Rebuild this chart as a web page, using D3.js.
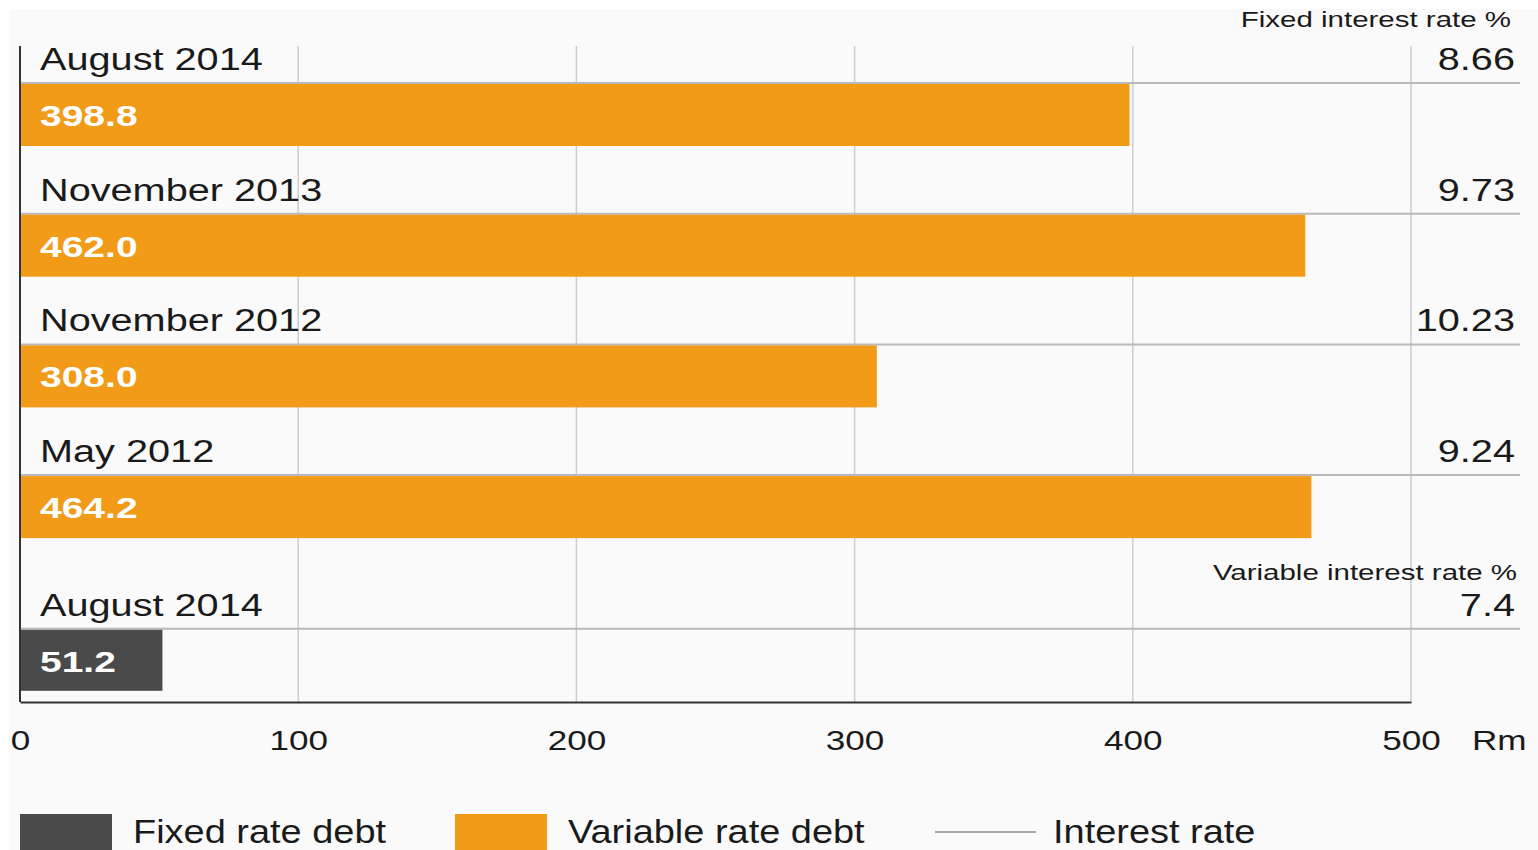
<!DOCTYPE html>
<html>
<head>
<meta charset="utf-8">
<script src="https://cdn.jsdelivr.net/npm/d3@7"></script>
<style>
  html, body { margin: 0; padding: 0; background: #ffffff; }
  svg { display: block; }
  text { font-family: "Liberation Sans", Arial, Helvetica, sans-serif; }
</style>
</head>
<body>
<svg id="chart" width="1538" height="850"></svg>
<script>
// Variable rate debt, by reporting date (Rm) and the fixed interest rate (%)
const variablePeriods = ["August 2014", "November 2013", "November 2012", "May 2012"];
const variableDebt = [398.8, 462.0, 308.0, 464.2];
const fixedRates = [8.66, 9.73, 10.23, 9.24];

// Fixed rate debt (Rm) and the variable interest rate (%)
const fixedPeriods = ["August 2014"];
const fixedDebt = [51.2];
const variableRates = [7.4];

const xTicks = [0, 100, 200, 300, 400, 500];
const legendItems = ["Fixed rate debt", "Variable rate debt", "Interest rate"];

const COLORS = { variable: "#f19b19", fixed: "#4a4a4a", grid: "#cdcdcd", rule: "#b9b9b9", axis: "#333333", text: "#1a1a1a" };

const svg = d3.select("#chart");
svg.append("rect").attr("x", 9).attr("y", 9).attr("width", 1529).attr("height", 841).attr("fill", "#fafafa");

const x = d3.scaleLinear().domain([0, 500]).range([20, 1411]);

// Rows: one list of entries, the second group sits a little lower to make room for its heading
const rows = [];
variablePeriods.forEach((p, i) => rows.push({ period: p, debt: variableDebt[i], rate: fixedRates[i], kind: "variable", group: 0 }));
fixedPeriods.forEach((p, i) => rows.push({ period: p, debt: fixedDebt[i], rate: variableRates[i], kind: "fixed", group: 1 }));

const rowStep = 130.7, groupGap = 23, firstRule = 83, barH = 62;
const ruleY = (d, i) => firstRule + i * rowStep + d.group * groupGap;

const plotTop = 46, plotBottom = 702;

// Horizontally widened text helper
function label(sel, px, py, str, opt) {
  return sel.append("text")
    .attr("transform", `translate(${px},${py}) scale(${opt.sx || 1.28},1)`)
    .attr("text-anchor", opt.anchor || "start")
    .attr("font-size", opt.size)
    .attr("font-weight", opt.weight || "normal")
    .attr("fill", opt.fill || COLORS.text)
    .text(str);
}

// Vertical gridlines
svg.append("g").selectAll("line").data(xTicks.filter(t => t > 0)).join("line")
  .attr("x1", d => x(d)).attr("x2", d => x(d))
  .attr("y1", plotTop).attr("y2", plotBottom)
  .attr("stroke", COLORS.grid).attr("stroke-width", 1.5);

// Interest-rate rules
svg.append("g").selectAll("line").data(rows).join("line")
  .attr("x1", x(0)).attr("x2", 1520)
  .attr("y1", ruleY).attr("y2", ruleY)
  .attr("stroke", COLORS.rule).attr("stroke-width", 2);

// Bars
svg.append("g").selectAll("rect").data(rows).join("rect")
  .attr("x", x(0))
  .attr("y", (d, i) => ruleY(d, i) + 1)
  .attr("width", d => x(d.debt) - x(0))
  .attr("height", (d, i) => d.kind === "fixed" ? barH - 1 : barH)
  .attr("fill", d => COLORS[d.kind]);

// Left axis line
svg.append("line").attr("x1", x(0)).attr("x2", x(0)).attr("y1", plotTop).attr("y2", plotBottom)
  .attr("stroke", COLORS.axis).attr("stroke-width", 2);

// Bottom axis
const axis = svg.append("g").attr("transform", `translate(0,${plotBottom})`)
  .call(d3.axisBottom(x).tickValues(xTicks).tickSize(0).tickSizeOuter(0).tickPadding(0).tickFormat(d3.format("d")));
axis.select(".domain").attr("stroke", COLORS.axis).attr("stroke-width", 2);
axis.selectAll(".tick text")
  .attr("y", 0).attr("dy", null)
  .attr("transform", "translate(0,48) scale(1.3,1)")
  .attr("font-size", 27)
  .attr("font-family", "\"Liberation Sans\", Arial, sans-serif")
  .attr("fill", COLORS.text);
label(svg, 1472, 750, "Rm", { size: 27, sx: 1.3 });

// Row labels, bar values and rates
rows.forEach((d, i) => {
  const ry = ruleY(d, i);
  label(svg, 40, ry - 13, d.period, { size: 31 });
  label(svg, 1515, ry - 13, String(d.rate), { size: 31, anchor: "end" });
  label(svg, 40, ry + 1 + barH / 2 + 11, d3.format(".1f")(d.debt), { size: 30, sx: 1.3, weight: "bold", fill: "#ffffff" });
});

// Group headings
label(svg, 1511, 27, "Fixed interest rate %", { size: 22, sx: 1.34, anchor: "end" });
label(svg, 1517, 580, "Variable interest rate %", { size: 22, sx: 1.34, anchor: "end" });

// Legend
const legend = svg.append("g");
legend.append("rect").attr("x", 20).attr("y", 814).attr("width", 92).attr("height", 40).attr("fill", COLORS.fixed);
label(legend, 133, 843, legendItems[0], { size: 33, sx: 1.15 });
legend.append("rect").attr("x", 455).attr("y", 814).attr("width", 92).attr("height", 40).attr("fill", COLORS.variable);
label(legend, 568, 843, legendItems[1], { size: 33, sx: 1.15 });
legend.append("line").attr("x1", 935).attr("x2", 1036).attr("y1", 832).attr("y2", 832)
  .attr("stroke", "#aaaaaa").attr("stroke-width", 2);
label(legend, 1053, 843, legendItems[2], { size: 33, sx: 1.15 });
</script>
</body>
</html>
